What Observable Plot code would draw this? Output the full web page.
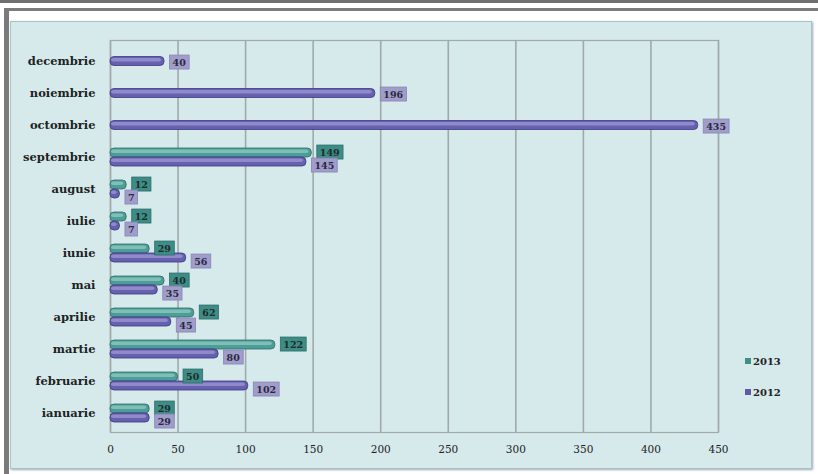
<!DOCTYPE html>
<html><head><meta charset="utf-8">
<script src="https://cdn.jsdelivr.net/npm/d3@7"></script>
<script src="https://cdn.jsdelivr.net/npm/@observablehq/plot@0.6"></script>
<style>
html,body{margin:0;padding:0;background:#fff;}
#wrap{position:relative;width:818px;height:474px;overflow:hidden;background:#fff;}
.topbar{position:absolute;left:0;top:0;width:818px;height:3px;background:#6f6f6f;}
.topline{position:absolute;left:4px;top:8px;width:814px;height:3px;background:#7a7a7a;}
.leftbar{position:absolute;left:4px;top:8px;width:5px;height:466px;background:#7a7a7a;}
.panel{position:absolute;left:10px;top:21px;width:800px;height:446px;background:#d6e9eb;border:1.5px solid #a7c3c5;box-shadow:1px 1px 2px #9ab;}
#chart{position:absolute;left:0;top:0;}
#chart g[aria-label^="x-axis"]{font-weight:normal;font-size:10.5px;}
#chart g[aria-label^="y-axis"]{font-size:11.5px;}
.leg{position:absolute;font:bold 10px "DejaVu Serif",serif;color:#222;}
.leg span{display:inline-block;width:6px;height:6px;margin-right:2px;vertical-align:1px;}
</style></head>
<body>
<div id="wrap">
  <div class="topbar"></div><div class="topline"></div><div class="leftbar"></div>
  <div class="panel"></div>
  <div id="chart"></div>
  <div class="leg" style="left:745px;top:356px"><span style="background:#3f8f88"></span>2013</div>
  <div class="leg" style="left:745px;top:387px"><span style="background:#5f59a8"></span>2012</div>
</div>
<script>
const months = ["ianuarie","februarie","martie","aprilie","mai","iunie","iulie","august","septembrie","octombrie","noiembrie","decembrie"];
const values2012 = [29,102,80,45,35,56,7,7,145,435,196,40];
const values2013 = [29,50,122,62,40,29,12,12,149,null,null,null];
const xTicks = [0,50,100,150,200,250,300,350,400,450];

const d13 = months.map((m,i)=>({month:m, value:values2013[i]})).filter(d=>d.value!=null);
const has13 = new Set(d13.map(d=>d.month));
const d12pair = months.map((m,i)=>({month:m, value:values2012[i]})).filter(d=>has13.has(d.month));
const d12solo = months.map((m,i)=>({month:m, value:values2012[i]})).filter(d=>!has13.has(d.month));

const teal = {fill:"#4e9e97", hi:"#93cdc6", stroke:"#2f6d68", box:"#3e8c86", boxStroke:"#2d6e69"};
const purp = {fill:"#6660ad", hi:"#a19cd8", stroke:"#3c3780", box:"#a19dca", boxStroke:"#8884b6"};

function bars(data, c, it, ib){
  return [
    Plot.barX(data,{x:"value", y:"month", insetTop:it, insetBottom:ib, fill:c.fill, stroke:c.stroke, strokeWidth:0.8, rx:4}),
    Plot.barX(data,{x:"value", y:"month", insetTop:it+1.5, insetBottom:ib+4, insetLeft:1, insetRight:3, fill:c.hi, fillOpacity:0.7, rx:2})
  ];
}

const plot = Plot.plot({
  width:818, height:474,
  marginLeft:110, marginRight:100, marginTop:45, marginBottom:45,
  style:{background:"transparent", fontFamily:"'DejaVu Serif', serif", fontSize:"10px", fontWeight:"bold", color:"#222"},
  x:{domain:[0,450], ticks:xTicks, label:null, tickSize:0, tickPadding:16, tickFormat:d=>d},
  y:{domain:months.slice().reverse(), padding:0, label:null, tickSize:0, tickPadding:15},
  marks:[
    Plot.ruleX(xTicks,{x:d=>d, stroke:"#a0aaaa", strokeWidth:1.6, insetTop:-5, insetBottom:-3}),
    Plot.frame({stroke:"#a0aaaa", strokeWidth:1.2, insetTop:-5, insetBottom:-3}),
    ...bars(d13, teal, 7, 16),
    ...bars(d12pair, purp, 16, 7),
    ...bars(d12solo, purp, 11.5, 11.5),
    Plot.text(d13,{x:"value", y:"month", text:d=>String(d.value), dx:8, dy:-5, textAnchor:"start", fill:"#1d2b2b", fontSize:9.5, ariaDescription:"lbl2013"}),
    Plot.text(d12pair,{x:"value", y:"month", text:d=>String(d.value), dx:8, dy:8, textAnchor:"start", fill:"#2a2840", fontSize:9.5, ariaDescription:"lbl2012"}),
    Plot.text(d12solo,{x:"value", y:"month", text:d=>String(d.value), dx:8, dy:1, textAnchor:"start", fill:"#2a2840", fontSize:9.5, ariaDescription:"lbl2012"})
  ]
});
document.getElementById("chart").appendChild(plot);

function boxes(label, c){
  const texts = [];
  plot.querySelectorAll(`[aria-description="${label}"]`).forEach(el=>{
    if (el.tagName.toLowerCase()==="text") texts.push(el);
    else el.querySelectorAll("text").forEach(t=>texts.push(t));
  });
  texts.forEach(t=>{
    const b = t.getBBox();
    const r = document.createElementNS("http://www.w3.org/2000/svg","rect");
    r.setAttribute("x", b.x-3); r.setAttribute("y", b.y-1.5);
    r.setAttribute("width", b.width+6); r.setAttribute("height", b.height+3);
    r.setAttribute("fill", c.box); r.setAttribute("stroke", c.boxStroke); r.setAttribute("stroke-width", 0.8);
    const tr = t.getAttribute("transform"); if (tr) r.setAttribute("transform", tr);
    t.parentNode.insertBefore(r, t);
  });
}
boxes("lbl2013", teal);
boxes("lbl2012", purp);
</script>
</body></html>
